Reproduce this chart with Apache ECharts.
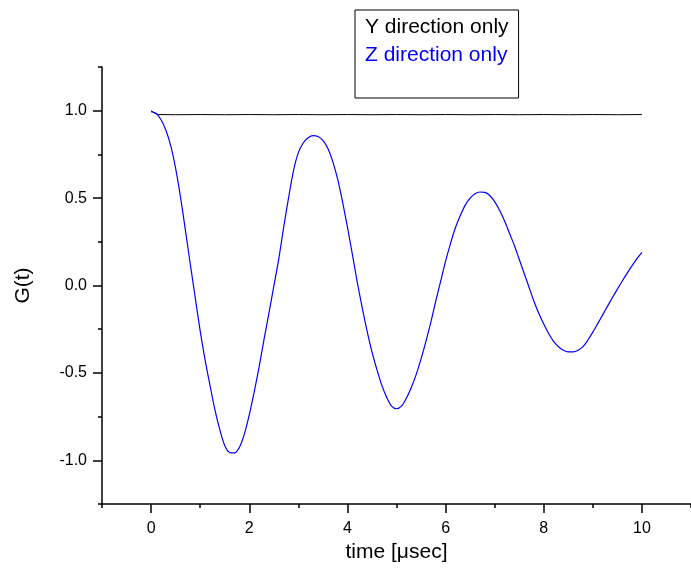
<!DOCTYPE html>
<html>
<head>
<meta charset="utf-8">
<title>G(t)</title>
<script src="https://cdn.jsdelivr.net/npm/echarts@6.0.0/dist/echarts.min.js"></script>
<style>
  html, body { margin: 0; padding: 0; background: #fff; }
  #chart { width: 691px; height: 575px; }
</style>
</head>
<body>
<div id="chart"></div>
<script>
// Y direction only (black, almost flat)
var timeY = [0, 0.03, 0.08, 0.15, 0.5, 1, 1.5, 2, 2.5, 3, 3.5, 4, 4.5, 5, 5.5, 6, 6.5, 7, 7.5, 8, 8.5, 9, 9.5, 10];
var gY = [1.0, 0.995, 0.985, 0.978, 0.977, 0.978, 0.977, 0.978, 0.977, 0.978, 0.977, 0.978, 0.977, 0.978, 0.977, 0.978, 0.977, 0.978, 0.977, 0.978, 0.977, 0.978, 0.977, 0.978];

// Z direction only (blue, damped oscillation), read every 0.1 usec from 0 to 10
var timeZ = [];
for (var k = 0; k <= 100; k++) timeZ.push(k / 10);
var gZ = [
  0.995, 0.985, 0.95, 0.89, 0.80, 0.67, 0.505, 0.315, 0.12, -0.07,
  -0.26, -0.425, -0.57, -0.71, -0.825, -0.915, -0.955, -0.958, -0.925, -0.85,
  -0.74, -0.61, -0.467, -0.31, -0.16, -0.005, 0.15, 0.33, 0.50, 0.655,
  0.76, 0.815, 0.845, 0.857, 0.852, 0.83, 0.785, 0.71, 0.61, 0.48,
  0.335, 0.18, 0.02, -0.125, -0.26, -0.38, -0.48, -0.57, -0.64, -0.69,
  -0.705, -0.69, -0.645, -0.585, -0.51, -0.42, -0.32, -0.21, -0.09, 0.025,
  0.14, 0.24, 0.33, 0.40, 0.46, 0.50, 0.525, 0.535, 0.533, 0.515,
  0.48, 0.43, 0.37, 0.30, 0.23, 0.15, 0.07, -0.01, -0.09, -0.16,
  -0.22, -0.275, -0.32, -0.35, -0.37, -0.38, -0.38, -0.37, -0.35, -0.312,
  -0.267, -0.218, -0.168, -0.118, -0.069, -0.021, 0.026, 0.071, 0.114, 0.154,
  0.19,
];

var xMajor = [0, 2, 4, 6, 8, 10];
var yMajor = [-1.0, -0.5, 0.0, 0.5, 1.0];

function pairs(xs, ys) {
  return xs.map(function (x, i) { return [x, ys[i]]; });
}

var font = 'Liberation Sans, Arial, sans-serif';
var tickStyle = { color: '#000', width: 1.5 };

var chart = echarts.init(document.getElementById('chart'), null, { renderer: 'canvas' });
chart.setOption({
  animation: false,
  backgroundColor: '#fff',
  grid: { left: 102, top: 67, width: 593, height: 437, containLabel: false },
  legend: {
    left: 355,
    top: 10,
    orient: 'vertical',
    icon: 'none',
    itemWidth: 0,
    itemHeight: 0,
    itemGap: 4,
    padding: [5, 10, 31, 5],
    borderColor: '#000',
    borderWidth: 1,
    selectedMode: false,
    textStyle: { fontFamily: font, fontSize: 21, lineHeight: 24 },
    data: [
      { name: 'Y direction only', textStyle: { color: '#000' } },
      { name: 'Z direction only', textStyle: { color: '#0000ff' } },
    ],
  },
  xAxis: [
    {
      type: 'value',
      min: -1,
      max: 11,
      position: 'bottom',
      name: 'time [\u03bcsec]',
      nameLocation: 'middle',
      nameGap: 37,
      nameTextStyle: { fontFamily: font, fontSize: 21, color: '#000' },
      axisLine: { show: true, onZero: false, lineStyle: tickStyle },
      axisTick: { show: true, inside: false, customValues: xMajor, length: 9, lineStyle: tickStyle },
      axisLabel: { customValues: xMajor, margin: 17, fontFamily: font, fontSize: 16, color: '#000' },
      splitLine: { show: false },
    },
    {
      type: 'value',
      min: -1,
      max: 11,
      interval: 1,
      position: 'bottom',
      axisLine: { show: false, onZero: false },
      axisTick: { show: true, inside: false, length: 4, lineStyle: tickStyle },
      axisLabel: { show: false },
      splitLine: { show: false },
    },
  ],
  yAxis: [
    {
      type: 'value',
      min: -1.25,
      max: 1.25,
      position: 'left',
      name: 'G(t)',
      nameLocation: 'middle',
      nameGap: 68,
      nameTextStyle: { fontFamily: font, fontSize: 21, color: '#000' },
      axisLine: { show: true, onZero: false, lineStyle: tickStyle },
      axisTick: { show: true, inside: false, customValues: yMajor, length: 9, lineStyle: tickStyle },
      axisLabel: {
        customValues: yMajor,
        margin: 15,
        fontFamily: font,
        fontSize: 16,
        color: '#000',
        formatter: function (v) { return v.toFixed(1); },
      },
      splitLine: { show: false },
    },
    {
      type: 'value',
      min: -1.25,
      max: 1.25,
      interval: 0.25,
      position: 'left',
      axisLine: { show: false, onZero: false },
      axisTick: { show: true, inside: false, length: 4, lineStyle: tickStyle },
      axisLabel: { show: false },
      splitLine: { show: false },
    },
  ],
  series: [
    {
      name: 'Y direction only',
      type: 'line',
      xAxisIndex: 0,
      yAxisIndex: 0,
      data: pairs(timeY, gY),
      showSymbol: false,
      lineStyle: { color: '#000', width: 1 },
      itemStyle: { color: '#000' },
    },
    {
      name: 'Z direction only',
      type: 'line',
      xAxisIndex: 0,
      yAxisIndex: 0,
      data: pairs(timeZ, gZ),
      smooth: 0.3,
      showSymbol: false,
      lineStyle: { color: '#0000ff', width: 1.2 },
      itemStyle: { color: '#0000ff' },
    },
  ],
});
</script>
</body>
</html>
